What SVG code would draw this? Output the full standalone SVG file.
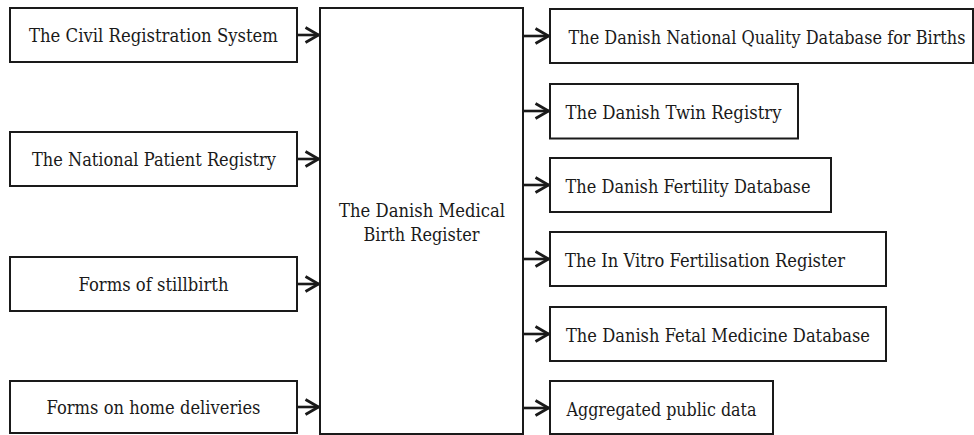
<svg xmlns="http://www.w3.org/2000/svg" width="974" height="435" viewBox="0 0 974 435">
<defs>
<style>
.box{fill:#fff;stroke:#1a1a1a;stroke-width:2}
text{font-family:"DejaVu Serif",serif;font-size:18.5px;fill:#1a1a1a;text-anchor:middle}
.c{fill:none;stroke:#1a1a1a;stroke-width:2.6}
</style>
<marker id="ah" viewBox="0 0 16 18" refX="15" refY="9" markerWidth="16" markerHeight="18" markerUnits="userSpaceOnUse" orient="auto">
<path d="M1.5,1.5 L14.5,9 L1.5,16.5" fill="none" stroke="#1a1a1a" stroke-width="2.8"/>
</marker>
</defs>
<rect width="974" height="435" fill="#fff"/>
<g id="connectors">
<line class="c" x1="297" y1="35" x2="319" y2="35" marker-end="url(#ah)"/>
<line class="c" x1="297" y1="159" x2="319" y2="159" marker-end="url(#ah)"/>
<line class="c" x1="297" y1="284" x2="319" y2="284" marker-end="url(#ah)"/>
<line class="c" x1="297" y1="407" x2="319" y2="407" marker-end="url(#ah)"/>
<line class="c" x1="523" y1="36" x2="549" y2="36" marker-end="url(#ah)"/>
<line class="c" x1="523" y1="111" x2="549" y2="111" marker-end="url(#ah)"/>
<line class="c" x1="523" y1="185" x2="549" y2="185" marker-end="url(#ah)"/>
<line class="c" x1="523" y1="259" x2="549" y2="259" marker-end="url(#ah)"/>
<line class="c" x1="523" y1="334" x2="549" y2="334" marker-end="url(#ah)"/>
<line class="c" x1="523" y1="408" x2="549" y2="408" marker-end="url(#ah)"/>
</g>
<g id="civil"><rect class="box" x="10" y="8" width="287" height="54"/><text x="153.5" y="42" textLength="249" lengthAdjust="spacingAndGlyphs">The Civil Registration System</text></g>
<g id="patient"><rect class="box" x="10" y="132" width="287" height="54"/><text x="154" y="166" textLength="244" lengthAdjust="spacingAndGlyphs">The National Patient Registry</text></g>
<g id="stillbirth"><rect class="box" x="10" y="257" width="287" height="54"/><text x="153.5" y="291" textLength="150" lengthAdjust="spacingAndGlyphs">Forms of stillbirth</text></g>
<g id="home"><rect class="box" x="10" y="381" width="287" height="52"/><text x="153.5" y="414" textLength="214" lengthAdjust="spacingAndGlyphs">Forms on home deliveries</text></g>
<g id="mbr"><rect class="box" x="320" y="8" width="203" height="426"/><text x="422" y="217" textLength="166" lengthAdjust="spacingAndGlyphs">The Danish Medical</text><text x="421.5" y="241" textLength="116" lengthAdjust="spacingAndGlyphs">Birth Register</text></g>
<g id="quality"><rect class="box" x="550" y="9" width="423" height="54"/><text x="767" y="43.5" textLength="397" lengthAdjust="spacingAndGlyphs">The Danish National Quality Database for Births</text></g>
<g id="twin"><rect class="box" x="550" y="84" width="248" height="54.5"/><text x="673.5" y="119" textLength="216" lengthAdjust="spacingAndGlyphs">The Danish Twin Registry</text></g>
<g id="fertility"><rect class="box" x="550" y="158" width="281" height="54"/><text x="688" y="192.5" textLength="245" lengthAdjust="spacingAndGlyphs">The Danish Fertility Database</text></g>
<g id="ivf"><rect class="box" x="550" y="232" width="336" height="54"/><text x="705" y="266.5" textLength="280" lengthAdjust="spacingAndGlyphs">The In Vitro Fertilisation Register</text></g>
<g id="fetal"><rect class="box" x="550" y="307" width="336" height="54"/><text x="718" y="341.5" textLength="304" lengthAdjust="spacingAndGlyphs">The Danish Fetal Medicine Database</text></g>
<g id="aggregated"><rect class="box" x="550" y="381" width="223" height="53"/><text x="661.5" y="415.5" textLength="190" lengthAdjust="spacingAndGlyphs">Aggregated public data</text></g>
</svg>
